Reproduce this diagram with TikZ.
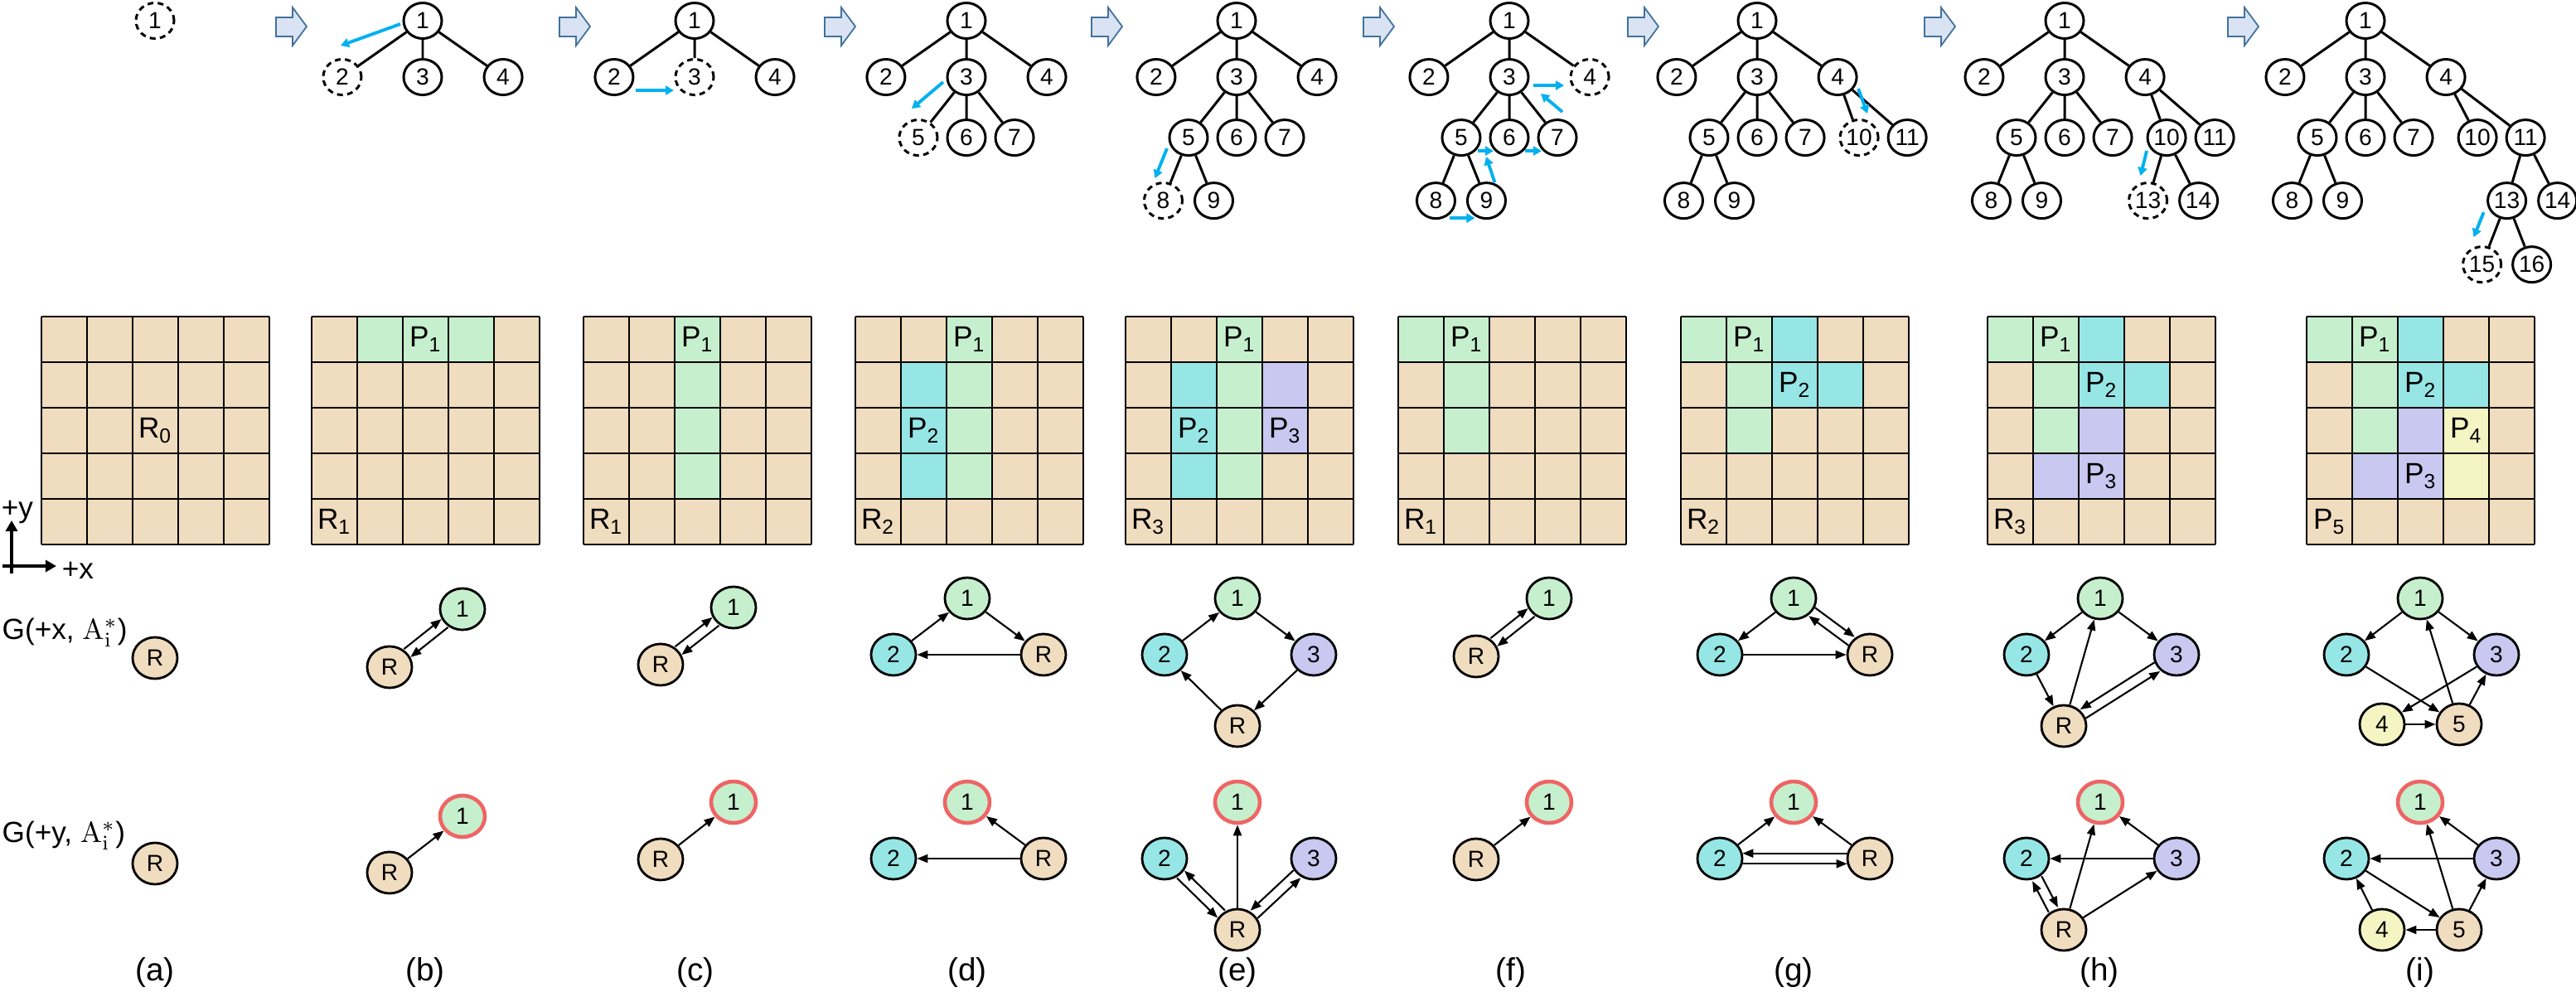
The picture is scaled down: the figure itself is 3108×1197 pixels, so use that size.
\documentclass[tikz,border=0pt]{standalone}
\usepackage[no-math]{fontspec}
\setmainfont{Liberation Sans}
\usetikzlibrary{positioning,calc,shapes,arrows.meta}

\definecolor{cellfree}{HTML}{F0DCBE}
\definecolor{cellone}{HTML}{C6EFCE}
\definecolor{celltwo}{HTML}{96E6E6}
\definecolor{cellthree}{HTML}{C8C8F0}
\definecolor{cellfour}{HTML}{F5F5C3}
\definecolor{walkblue}{HTML}{00B0F0}
\definecolor{stagefill}{HTML}{DAE3F3}
\definecolor{stagedraw}{HTML}{41719C}
\definecolor{ringred}{HTML}{F06464}

\tikzset{
        treenode/.style={ellipse, draw, fill=white, line width=0.85pt, inner sep=0pt, minimum width=0.46cm, minimum height=0.43cm, font=\fontsize{8}{9}\selectfont},
        % Visited nodes
        node_visit/.style={treenode},
        % Node under expansion
        node_current/.style={treenode, dash pattern=on 2pt off 1.5pt},
        % Search moves
        walk/.style={walkblue, line width=1.1pt, -{Triangle[length=0.1cm, width=0.11cm]}},
        % Arrows between stages
        stage_arrow/.style={draw=stagedraw, fill=stagefill, line width=0.5pt, line join=miter},
        % Grid cells
        cell_line/.style={line width=0.75pt},
        cell_text/.style={inner sep=0pt, font=\fontsize{10}{12}\selectfont},
        % Graph nodes
        gnode/.style={ellipse, draw, line width=0.8pt, inner sep=0pt, minimum width=0.54cm, minimum height=0.5cm, font=\fontsize{8}{9}\selectfont},
        node_free/.style={gnode, fill=cellfree},
        node_p1/.style={gnode, fill=cellone},
        node_p2/.style={gnode, fill=celltwo},
        node_p3/.style={gnode, fill=cellthree},
        node_p4/.style={gnode, fill=cellfour},
        node_fixed/.style={node_p1, draw=ringred, line width=1.3pt},
        link/.style={line width=0.6pt, -{Triangle[length=0.13cm, width=0.1cm]}},
        axis_arrow/.style={line width=1.4pt, -{Triangle[length=0.13cm, width=0.14cm]}},
        label_text/.style={inner sep=0pt, font=\fontsize{10}{12}\selectfont},
        panel_label/.style={inner sep=0pt, font=\fontsize{11}{13}\selectfont}
}

% two opposite links side by side
\newcommand{\twoway}[4]{%
        \draw[link] ($(#1)!0.28cm!#3:(#2)$) -- ($(#2)!0.28cm!#4:(#1)$);
        \draw[link] ($(#2)!0.28cm!#3:(#1)$) -- ($(#1)!0.28cm!#4:(#2)$);}
% 5x5 room, top left corner at x = #1
\newcommand{\roomgrid}[2]{%
        \begin{scope}[shift={(#1,382)}]
        \fill[cellfree] (0,0) rectangle (275,275);
        #2
        \foreach \k in {0,...,5} {
                \draw[cell_line] ({\k*55},0) -- ({\k*55},275);
                \draw[cell_line] (0,{\k*55}) -- (275,{\k*55});}
        \end{scope}}
\newcommand{\paint}[2]{\foreach \col/\row in {#2} \fill[#1] ({\col*55},{\row*55}) rectangle ++(55,55);}
\newcommand{\celltag}[4]{\node[cell_text] (#1) at ({#2*55+27.5},{#3*55+27.5}) {#4};}

\begin{document}
\begin{tikzpicture}[
            x=0.01cm, y=-0.01cm,
            level/.style={level distance=0.74cm},
            level 1/.style={sibling distance=0.97cm, level distance=0.68cm},
            level 2/.style={sibling distance=0.58cm, level distance=0.73cm},
            level 3/.style={sibling distance=0.61cm, level distance=0.76cm},
            level 4/.style={sibling distance=0.6cm, level distance=0.77cm},
            edge from parent/.style={draw, line width=0.85pt}
        ]
            \useasboundingbox (0,0) rectangle (3108,1197);

            \foreach \sx in {351,693,1013,1335,1663,1982,2340,2706}
                \draw[stage_arrow] (\sx-18,21) -- (\sx+2,21) -- (\sx+2,9) -- (\sx+19,32)
                    -- (\sx+2,55) -- (\sx+2,44) -- (\sx-18,44) -- cycle;

            \node[node_current] (a1) at (187,25) {1};

            \node[node_visit] (b1) at (510,25) {1}
                child { node[node_current] (b2) {2} }
                child { node[node_visit] (b3) {3} }
                child { node[node_visit] (b4) {4} };

            \node[node_visit] (c1) at (838,25) {1}
                child { node[node_visit] (c2) {2} }
                child { node[node_current] (c3) {3} }
                child { node[node_visit] (c4) {4} };

            \node[node_visit] (d1) at (1166,25) {1}
                child { node[node_visit] (d2) {2} }
                child { node[node_visit] (d3) {3}
                    child { node[node_current] (d5) {5} }
                    child { node[node_visit] (d6) {6} }
                    child { node[node_visit] (d7) {7} } }
                child { node[node_visit] (d4) {4} };

            \node[node_visit] (e1) at (1492,25) {1}
                child { node[node_visit] (e2) {2} }
                child { node[node_visit] (e3) {3}
                    child { node[node_visit] (e5) {5}
                        child { node[node_current] (e8) {8} }
                        child { node[node_visit] (e9) {9} } }
                    child { node[node_visit] (e6) {6} }
                    child { node[node_visit] (e7) {7} } }
                child { node[node_visit] (e4) {4} };

            \node[node_visit] (f1) at (1821,25) {1}
                child { node[node_visit] (f2) {2} }
                child { node[node_visit] (f3) {3}
                    child { node[node_visit] (f5) {5}
                        child { node[node_visit] (f8) {8} }
                        child { node[node_visit] (f9) {9} } }
                    child { node[node_visit] (f6) {6} }
                    child { node[node_visit] (f7) {7} } }
                child { node[node_current] (f4) {4} };

            \node[node_visit] (g1) at (2120,25) {1}
                child { node[node_visit] (g2) {2} }
                child { node[node_visit] (g3) {3}
                    child { node[node_visit] (g5) {5}
                        child { node[node_visit] (g8) {8} }
                        child { node[node_visit] (g9) {9} } }
                    child { node[node_visit] (g6) {6} }
                    child { node[node_visit] (g7) {7} } }
                child { node[node_visit] (g4) {4}
                    child[xshift=0.55cm] { node[node_current] (g10) {10} }
                    child[xshift=0.55cm] { node[node_visit] (g11) {11} } };

            \node[node_visit] (h1) at (2491,25) {1}
                child { node[node_visit] (h2) {2} }
                child { node[node_visit] (h3) {3}
                    child { node[node_visit] (h5) {5}
                        child { node[node_visit] (h8) {8} }
                        child { node[node_visit] (h9) {9} } }
                    child { node[node_visit] (h6) {6} }
                    child { node[node_visit] (h7) {7} } }
                child { node[node_visit] (h4) {4}
                    child[xshift=0.55cm] { node[node_visit] (h10) {10}
                        child[xshift=0.08cm] { node[node_current] (h13) {13} }
                        child[xshift=0.08cm] { node[node_visit] (h14) {14} } }
                    child[xshift=0.55cm] { node[node_visit] (h11) {11} } };

            \node[node_visit] (i1) at (2854,25) {1}
                child { node[node_visit] (i2) {2} }
                child { node[node_visit] (i3) {3}
                    child { node[node_visit] (i5) {5}
                        child { node[node_visit] (i8) {8} }
                        child { node[node_visit] (i9) {9} } }
                    child { node[node_visit] (i6) {6} }
                    child { node[node_visit] (i7) {7} } }
                child { node[node_visit] (i4) {4}
                    child[xshift=0.67cm] { node[node_visit] (i10) {10} }
                    child[xshift=0.67cm] { node[node_visit] (i11) {11}
                        child[xshift=0.08cm] { node[node_visit] (i13) {13}
                            child { node[node_current] (i15) {15} }
                            child { node[node_visit] (i16) {16} } }
                        child[xshift=0.08cm] { node[node_visit] (i14) {14} } } };

            \draw[walk] ([shift={(-27,4)}]b1.center) -- ([shift={(-2,-38)}]b2.center);
            \draw[walk] ([shift={(26,16)}]c2.center) -- ([shift={(-25,16)}]c3.center);
            \draw[walk] ([shift={(-28,6)}]d3.center) -- ([shift={(-8,-35)}]d5.center);
            \draw[walk] ([shift={(-26,13)}]e5.center) -- ([shift={(-10,-27)}]e8.center);
            \draw[walk] ([shift={(17,21)}]f8.center) -- ([shift={(-14,21)}]f9.center);
            \draw[walk] ([shift={(10,-22)}]f9.center) -- ([shift={(30,23)}]f5.center);
            \draw[walk] ([shift={(20,16)}]f5.center) -- ([shift={(-19,16)}]f6.center);
            \draw[walk] ([shift={(19,16)}]f6.center) -- ([shift={(-19,16)}]f7.center);
            \draw[walk] ([shift={(6,-31)}]f7.center) -- ([shift={(38,20)}]f3.center);
            \draw[walk] ([shift={(29,10)}]f3.center) -- ([shift={(-31,10)}]f4.center);
            \draw[walk] ([shift={(25,14)}]g4.center) -- ([shift={(10,-29)}]g10.center);
            \draw[walk] ([shift={(-24,16)}]h10.center) -- ([shift={(-9,-30)}]h13.center);
            \draw[walk] ([shift={(-28,14)}]i13.center) -- ([shift={(-10,-33)}]i15.center);

            \roomgrid{50}{\celltag{aR}{2}{2}{R\textsubscript{0}}}
            \roomgrid{376}{\paint{cellone}{1/0,2/0,3/0}
                \celltag{bP1}{2}{0}{P\textsubscript{1}}\celltag{bR}{0}{4}{R\textsubscript{1}}}
            \roomgrid{704}{\paint{cellone}{2/0,2/1,2/2,2/3}
                \celltag{cP1}{2}{0}{P\textsubscript{1}}\celltag{cR}{0}{4}{R\textsubscript{1}}}
            \roomgrid{1032}{\paint{cellone}{2/0,2/1,2/2,2/3}\paint{celltwo}{1/1,1/2,1/3}
                \celltag{dP1}{2}{0}{P\textsubscript{1}}\celltag{dP2}{1}{2}{P\textsubscript{2}}\celltag{dR}{0}{4}{R\textsubscript{2}}}
            \roomgrid{1358}{\paint{cellone}{2/0,2/1,2/2,2/3}\paint{celltwo}{1/1,1/2,1/3}\paint{cellthree}{3/1,3/2}
                \celltag{eP1}{2}{0}{P\textsubscript{1}}\celltag{eP2}{1}{2}{P\textsubscript{2}}\celltag{eP3}{3}{2}{P\textsubscript{3}}\celltag{eR}{0}{4}{R\textsubscript{3}}}
            \roomgrid{1687}{\paint{cellone}{0/0,1/0,1/1,1/2}
                \celltag{fP1}{1}{0}{P\textsubscript{1}}\celltag{fR}{0}{4}{R\textsubscript{1}}}
            \roomgrid{2028}{\paint{cellone}{0/0,1/0,1/1,1/2}\paint{celltwo}{2/0,2/1,3/1}
                \celltag{gP1}{1}{0}{P\textsubscript{1}}\celltag{gP2}{2}{1}{P\textsubscript{2}}\celltag{gR}{0}{4}{R\textsubscript{2}}}
            \roomgrid{2398}{\paint{cellone}{0/0,1/0,1/1,1/2}\paint{celltwo}{2/0,2/1,3/1}\paint{cellthree}{2/2,1/3,2/3}
                \celltag{hP1}{1}{0}{P\textsubscript{1}}\celltag{hP2}{2}{1}{P\textsubscript{2}}\celltag{hP3}{2}{3}{P\textsubscript{3}}\celltag{hR}{0}{4}{R\textsubscript{3}}}
            \roomgrid{2783}{\paint{cellone}{0/0,1/0,1/1,1/2}\paint{celltwo}{2/0,2/1,3/1}\paint{cellthree}{2/2,1/3,2/3}\paint{cellfour}{3/2,3/3}
                \celltag{iP1}{1}{0}{P\textsubscript{1}}\celltag{iP2}{2}{1}{P\textsubscript{2}}\celltag{iP3}{2}{3}{P\textsubscript{3}}\celltag{iP4}{3}{2}{P\textsubscript{4}}\celltag{iP5}{0}{4}{P\textsubscript{5}}}

            \coordinate (ax_base) at (14,692);
            \coordinate (ax_up) at (14,628);
            \coordinate (ax_left) at (3,683);
            \coordinate (ax_right) at (68,683);
            \draw[axis_arrow] (ax_base) -- (ax_up);
            \draw[axis_arrow] (ax_left) -- (ax_right);
            \node[label_text] (ax_ty) at (21,618) {+y};
            \node[label_text] (ax_tx) at (94,688) {+x};

            \node[label_text, anchor=west] (row_x) at (2,763) {G(+x, $\mathrm{A}_{\mathrm{i}}^{*}$)};
            \node[label_text, anchor=west] (row_y) at (2,1008) {G(+y, $\mathrm{A}_{\mathrm{i}}^{*}$)};

            \node[node_free] (axR) at (187,794) {R};
            \node[node_free] (ayR) at (187,1042) {R};

            \node[node_p1] (bx1) at (558,735) {1};
            \node[node_free] (bxR) at (470,805) {R};
            \twoway{bxR}{bx1}{13}{-13}
            \node[node_fixed] (by1) at (558,985) {1};
            \node[node_free] (byR) at (470,1053) {R};
            \draw[link] (byR) -- (by1);

            \node[node_p1] (cx1) at (885,733) {1};
            \node[node_free] (cxR) at (797,802) {R};
            \twoway{cxR}{cx1}{13}{-13}
            \node[node_fixed] (cy1) at (885,968) {1};
            \node[node_free] (cyR) at (797,1037) {R};
            \draw[link] (cyR) -- (cy1);

            \node[node_p1] (dx1) at (1167,722) {1};
            \node[node_p2] (dx2) at (1078,790) {2};
            \node[node_free] (dxR) at (1259,790) {R};
            \foreach \u/\v in {dx2/dx1, dx1/dxR, dxR/dx2} \draw[link] (\u) -- (\v);
            \node[node_fixed] (dy1) at (1167,968) {1};
            \node[node_p2] (dy2) at (1078,1036) {2};
            \node[node_free] (dyR) at (1259,1036) {R};
            \foreach \u/\v in {dyR/dy1, dyR/dy2} \draw[link] (\u) -- (\v);

            \node[node_p1] (ex1) at (1493,722) {1};
            \node[node_p2] (ex2) at (1405,790) {2};
            \node[node_p3] (ex3) at (1585,790) {3};
            \node[node_free] (exR) at (1493,876) {R};
            \foreach \u/\v in {ex2/ex1, ex1/ex3, ex3/exR, exR/ex2} \draw[link] (\u) -- (\v);
            \node[node_fixed] (ey1) at (1493,968) {1};
            \node[node_p2] (ey2) at (1405,1036) {2};
            \node[node_p3] (ey3) at (1585,1036) {3};
            \node[node_free] (eyR) at (1493,1122) {R};
            \draw[link] (eyR) -- (ey1);
            \twoway{eyR}{ey2}{-13}{13}
            \twoway{eyR}{ey3}{-13}{13}

            \node[node_p1] (fx1) at (1869,722) {1};
            \node[node_free] (fxR) at (1781,792) {R};
            \twoway{fxR}{fx1}{13}{-13}
            \node[node_fixed] (fy1) at (1869,968) {1};
            \node[node_free] (fyR) at (1781,1037) {R};
            \draw[link] (fyR) -- (fy1);

            \node[node_p1] (gx1) at (2164,722) {1};
            \node[node_p2] (gx2) at (2075,790) {2};
            \node[node_free] (gxR) at (2256,790) {R};
            \foreach \u/\v in {gx1/gx2, gx2/gxR} \draw[link] (\u) -- (\v);
            \twoway{gx1}{gxR}{13}{-13}
            \node[node_fixed] (gy1) at (2164,968) {1};
            \node[node_p2] (gy2) at (2075,1036) {2};
            \node[node_free] (gyR) at (2256,1036) {R};
            \foreach \u/\v in {gy2/gy1, gyR/gy1} \draw[link] (\u) -- (\v);
            \twoway{gyR}{gy2}{-13}{13}

            \node[node_p1] (hx1) at (2534,722) {1};
            \node[node_p2] (hx2) at (2445,790) {2};
            \node[node_p3] (hx3) at (2626,790) {3};
            \node[node_free] (hxR) at (2490,876) {R};
            \foreach \u/\v in {hx1/hx2, hx1/hx3, hx2/hxR, hxR/hx1} \draw[link] (\u) -- (\v);
            \twoway{hxR}{hx3}{-13}{13}
            \node[node_fixed] (hy1) at (2534,968) {1};
            \node[node_p2] (hy2) at (2445,1036) {2};
            \node[node_p3] (hy3) at (2626,1036) {3};
            \node[node_free] (hyR) at (2490,1122) {R};
            \foreach \u/\v in {hy3/hy1, hy3/hy2, hyR/hy1, hyR/hy3} \draw[link] (\u) -- (\v);
            \twoway{hyR}{hy2}{13}{-13}

            \node[node_p1] (ix1) at (2920,722) {1};
            \node[node_p2] (ix2) at (2831,790) {2};
            \node[node_p3] (ix3) at (3012,790) {3};
            \node[node_p4] (ix4) at (2874,874) {4};
            \node[node_free] (ix5) at (2967,874) {5};
            \foreach \u/\v in {ix1/ix2, ix1/ix3, ix2/ix5, ix3/ix4, ix4/ix5, ix5/ix1, ix5/ix3} \draw[link] (\u) -- (\v);
            \node[node_fixed] (iy1) at (2920,968) {1};
            \node[node_p2] (iy2) at (2831,1036) {2};
            \node[node_p3] (iy3) at (3012,1036) {3};
            \node[node_p4] (iy4) at (2874,1122) {4};
            \node[node_free] (iy5) at (2967,1122) {5};
            \foreach \u/\v in {iy3/iy1, iy3/iy2, iy2/iy5, iy5/iy1, iy5/iy3, iy5/iy4, iy4/iy2} \draw[link] (\u) -- (\v);

            \foreach \lx/\lt in {187/a,513/b,839/c,1167/d,1493/e,1823/f,2164/g,2533/h,2920/i}
                \node[panel_label] (tag_\lt) at (\lx,1173) {(\lt)};
        \end{tikzpicture}
\end{document}
